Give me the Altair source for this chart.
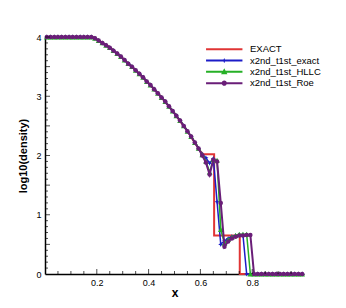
import altair as alt
import pandas as pd

# ---------------- data ----------------
XS = [0.0071, 0.0214, 0.0357, 0.0500, 0.0643, 0.0786, 0.0929, 0.1071, 0.1214, 0.1357,
      0.1500, 0.1643, 0.1786, 0.1929, 0.2071, 0.2214, 0.2357, 0.2500, 0.2643, 0.2786,
      0.2929, 0.3071, 0.3214, 0.3357, 0.3500, 0.3643, 0.3786, 0.3929, 0.4071, 0.4214,
      0.4357, 0.4500, 0.4643, 0.4786, 0.4929, 0.5071, 0.5214, 0.5357, 0.5500, 0.5643,
      0.5786, 0.5929, 0.6071, 0.6214, 0.6357, 0.6500, 0.6643, 0.6786, 0.6929, 0.7071,
      0.7214, 0.7357, 0.7500, 0.7643, 0.7786, 0.7929, 0.8071, 0.8214, 0.8357, 0.8500,
      0.8643, 0.8786, 0.8929, 0.9071, 0.9214, 0.9357, 0.9500, 0.9643, 0.9786, 0.9929]

# common rarefaction part (cells 0..41)
COMMON = [4.00, 4.00, 4.00, 4.00, 4.00, 4.00, 4.00, 4.00, 4.00, 4.00,
          4.00, 4.00, 4.00, 3.98, 3.94, 3.90, 3.86, 3.82, 3.77, 3.72,
          3.67, 3.61, 3.55, 3.50, 3.44, 3.38, 3.32, 3.25, 3.19, 3.12,
          3.05, 2.98, 2.91, 2.83, 2.75, 2.67, 2.59, 2.50, 2.41, 2.32,
          2.22, 2.12]

TAIL_EXACT = [2.02, 1.96, 1.87, 1.95, 1.22, 0.50, 0.56, 0.60, 0.63, 0.65,
              0.66, 0.66, 0.00, 0.00, 0.00, 0.00, 0.00, 0.00, 0.00, 0.00,
              0.00, 0.00, 0.00, 0.00, 0.00, 0.00, 0.00, 0.00]
TAIL_HLLC = [2.01, 1.90, 1.72, 1.93, 1.92, 0.75, 0.52, 0.58, 0.62, 0.65,
             0.67, 0.67, 0.67, 0.00, 0.00, 0.00, 0.00, 0.00, 0.00, 0.00,
             0.00, 0.00, 0.00, 0.00, 0.00, 0.00, 0.00, 0.00]
TAIL_ROE = [2.00, 1.88, 1.68, 1.93, 1.90, 1.20, 0.46, 0.55, 0.60, 0.63,
            0.65, 0.65, 0.66, 0.66, 0.00, 0.00, 0.00, 0.00, 0.00, 0.00,
            0.00, 0.00, 0.00, 0.00, 0.00, 0.00, 0.00, 0.00]

EX_X = [0.0, 0.185, 0.20, 0.25, 0.30, 0.35, 0.40, 0.45, 0.50, 0.55, 0.60, 0.612, 0.653, 0.653, 0.752, 0.752, 1.0]
EX_Y = [4.0, 4.00, 3.96, 3.83, 3.64, 3.44, 3.22, 2.98, 2.71, 2.41, 2.07, 2.02, 2.02, 0.65, 0.65, 0.00, 0.0]

SERIES = ["EXACT", "x2nd_t1st_exact", "x2nd_t1st_HLLC", "x2nd_t1st_Roe"]
COLORS = ["#e03535", "#1c1cc8", "#26b026", "#6a1e78"]

X_LABELS = [0.2, 0.4, 0.6, 0.8]
X_MINOR = [0.05, 0.1, 0.15, 0.25, 0.3, 0.35, 0.45, 0.5, 0.55, 0.65, 0.7, 0.75, 0.85, 0.9, 0.95]
Y_LABELS = [0, 0.5, 1, 1.5, 2, 2.5, 3, 3.5, 4]
Y_MINOR = [0.1, 0.2, 0.3, 0.4, 0.6, 0.7, 0.8, 0.9, 1.1, 1.2, 1.3, 1.4, 1.6, 1.7, 1.8, 1.9,
           2.1, 2.2, 2.3, 2.4, 2.6, 2.7, 2.8, 2.9, 3.1, 3.2, 3.3, 3.4, 3.6, 3.7, 3.8, 3.9]

# ---------------- frames ----------------
exact_df = pd.DataFrame({"x": EX_X, "y": EX_Y, "o": list(range(len(EX_X)))})
num = {
    SERIES[1]: COMMON + TAIL_EXACT,
    SERIES[2]: COMMON + TAIL_HLLC,
    SERIES[3]: COMMON + TAIL_ROE,
}
num_df = {k: pd.DataFrame({"x": XS, "y": v}) for k, v in num.items()}

FONT = "Liberation Sans"
xs = alt.Scale(domain=[0, 1], nice=False, zero=False)
ys = alt.Scale(domain=[0, 4], nice=False, zero=False)

xaxis = alt.Axis(values=X_LABELS, format="~g", ticks=False, grid=False, title="x",
                 domainColor="black", domainWidth=1.5, labelColor="black",
                 labelFontSize=9, labelFont=FONT, labelPadding=4,
                 titleFont=FONT, titleFontSize=12, titleFontWeight="bold", titlePadding=0)
yaxis = alt.Axis(values=Y_LABELS, format="~g", ticks=False, grid=False, title="log10(density)",
                 domainColor="black", domainWidth=1.5, labelColor="black",
                 labelFontSize=9, labelFont=FONT, labelPadding=4,
                 titleFont=FONT, titleFontSize=11, titleFontWeight="bold", titlePadding=7)

base_x = alt.X("x:Q", scale=xs, axis=xaxis)
base_y = alt.Y("y:Q", scale=ys, axis=yaxis)

layers = []
layers.append(alt.Chart(exact_df).mark_line(color=COLORS[0], strokeWidth=2).encode(
    x=base_x, y=base_y, order="o:Q"))

STAR = "M0,-1L0.3,-0.3L1,0L0.3,0.3L0,1L-0.3,0.3L-1,0L-0.3,-0.3Z"
marks = {
    SERIES[1]: dict(shape=STAR, size=26),
    SERIES[2]: dict(shape="triangle-up", size=32),
    SERIES[3]: dict(shape="circle", size=20),
}
widths = {SERIES[1]: 1.5, SERIES[2]: 1.5, SERIES[3]: 2}
for i, s in enumerate(SERIES[1:], start=1):
    d = num_df[s]
    layers.append(alt.Chart(d).mark_line(color=COLORS[i], strokeWidth=widths[s]).encode(
        x=base_x, y=base_y))
    layers.append(alt.Chart(d).mark_point(color=COLORS[i], filled=True, opacity=1,
                                          **marks[s]).encode(x=base_x, y=base_y))

# inward ticks
layers.append(alt.Chart(pd.DataFrame({"v": X_LABELS})).mark_tick(
    orient="vertical", size=5, thickness=1, color="black", yOffset=-2.5).encode(
    x=alt.X("v:Q", scale=xs, axis=xaxis), y=alt.datum(0)))
layers.append(alt.Chart(pd.DataFrame({"v": X_MINOR})).mark_tick(
    orient="vertical", size=3, thickness=1, color="black", yOffset=-1.5).encode(
    x=alt.X("v:Q", scale=xs, axis=xaxis), y=alt.datum(0)))
layers.append(alt.Chart(pd.DataFrame({"v": Y_LABELS[1:]})).mark_tick(
    orient="horizontal", size=5, thickness=1, color="black", xOffset=2.5).encode(
    y=alt.Y("v:Q", scale=ys, axis=yaxis), x=alt.datum(0)))
layers.append(alt.Chart(pd.DataFrame({"v": Y_MINOR})).mark_tick(
    orient="horizontal", size=3, thickness=1, color="black", xOffset=1.5).encode(
    y=alt.Y("v:Q", scale=ys, axis=yaxis), x=alt.datum(0)))

# legend helper (hidden point, clipped)
LINE = "M-4.55,-0.25H4.55V0.25H-4.55Z"
LEG_SHAPES = [
    LINE,
    LINE + "M0,-0.65L0.2,-0.2L0.65,0L0.2,0.2L0,0.65L-0.2,0.2L-0.65,0L-0.2,-0.2Z",
    LINE + "M0,-0.9L0.8,0.6L-0.8,0.6Z",
    LINE + "M0.65,0A0.65,0.65,0,1,1,-0.65,0A0.65,0.65,0,1,1,0.65,0Z",
]
leg_df = pd.DataFrame({"series": SERIES, "x": [-1] * 4, "y": [-1] * 4})
legend = alt.Legend(title=None, orient="none", legendX=174.5, legendY=7.5, padding=0,
                    symbolSize=64, labelFontSize=9.5, labelFont=FONT, labelColor="black",
                    labelOffset=21, rowPadding=0.3, symbolStrokeWidth=0)
layers.append(alt.Chart(leg_df).mark_point(filled=True, clip=True, opacity=1).encode(
    x=alt.X("x:Q", scale=xs, axis=xaxis), y=alt.Y("y:Q", scale=ys, axis=yaxis),
    color=alt.Color("series:N", scale=alt.Scale(domain=SERIES, range=COLORS), legend=legend),
    shape=alt.Shape("series:N", scale=alt.Scale(domain=SERIES, range=LEG_SHAPES), legend=legend),
))

chart = alt.layer(*layers).properties(
    width=259, height=237,
    autosize=alt.AutoSizeParams(type="none"),
    padding={"left": 37, "top": 29, "right": 34, "bottom": 26},
    background="white",
).configure_view(stroke=None)

chart.save("out.html", embed_options={"renderer": "svg", "actions": False})
